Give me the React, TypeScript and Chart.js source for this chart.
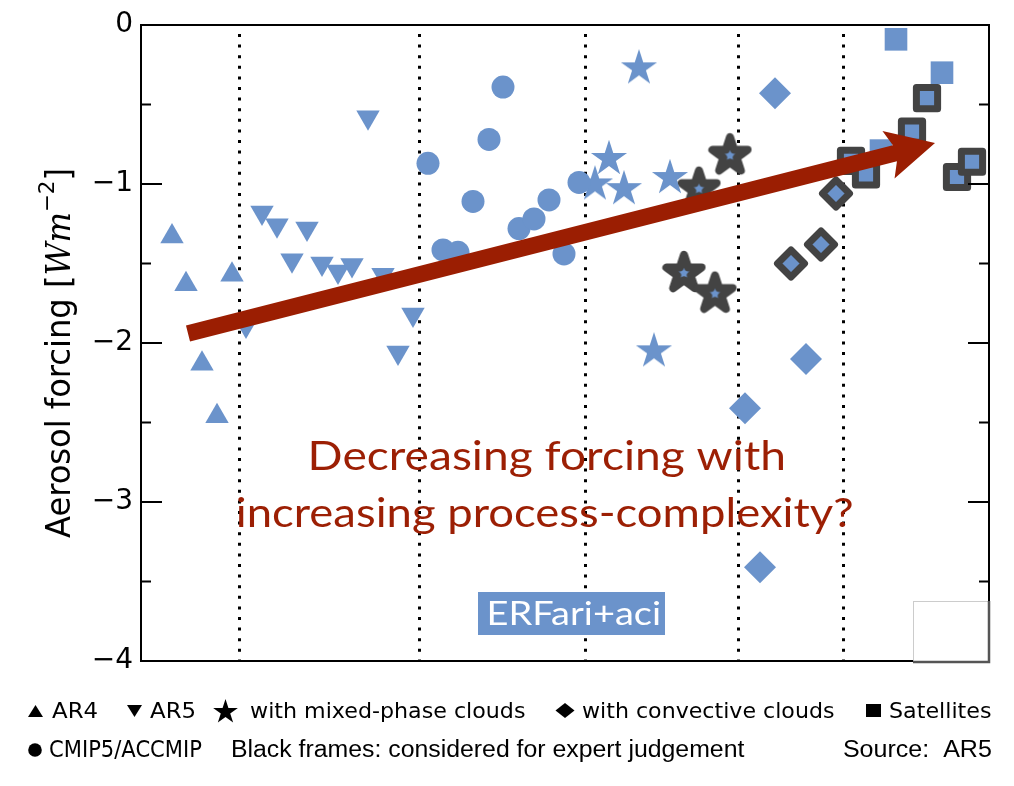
import React, { useEffect, useRef } from "react";
import { Chart, registerables } from "chart.js";
Chart.register(...registerables);

const BLUE = "#6b93cb";
const FRAME = "#434343";
const RED = "#9b1e02";

// x: position along the process-complexity axis (arbitrary units), y: aerosol forcing (W m-2)
const ar4X = [31, 45, 91, 61, 76];
const ar4Y = [-1.33, -1.63, -1.57, -2.13, -2.46];
const ar5X = [121, 136, 166, 151, 181, 197, 211, 242, 227, 272, 257, 105];
const ar5Y = [-1.18, -1.26, -1.28, -1.48, -1.5, -1.55, -1.51, -1.57, -0.58, -1.82, -2.06, -1.89];
const cmipX = [287, 362, 348, 332, 302, 317, 378, 393, 408, 423, 438];
const cmipY = [-0.87, -0.39, -0.72, -1.11, -1.415, -1.43, -1.28, -1.22, -1.1, -1.44, -0.99];
const mixedX = [498, 468, 454, 483, 529, 513];
const mixedY = [-0.26, -0.83, -0.99, -1.02, -0.95, -2.04];
const mixedFramedX = [589, 558, 543, 574];
const mixedFramedY = [-0.81, -1.02, -1.55, -1.68];
const convX = [634, 665, 604, 619];
const convY = [-0.43, -2.1, -2.41, -3.41];
const convFramedX = [695, 680, 650];
const convFramedY = [-1.06, -1.38, -1.5];
const satX = [755, 801, 740];
const satY = [-0.09, -0.3, -0.79];
const satFramedX = [786, 771, 710, 725, 816, 831];
const satFramedY = [-0.46, -0.67, -0.855, -0.94, -0.956, -0.86];

const separatorX = [98, 278, 444, 597, 702];
const trendStart = [47, -1.94];
const trendEnd = [794, -0.742];
const yMin = -4;
const yMax = 0;
const xMin = 0;
const xMax = 848;

const annotationLines = ["Decreasing forcing with", "increasing process-complexity?"];
const boxLabel = "ERFari+aci";

const zip = (xs: number[], ys: number[]) => xs.map((x, i) => ({ x, y: ys[i] }));

function starCanvas(R: number, fill: string, stroke: string, lw: number) {
  const pad = Math.ceil(lw / 2 + 2);
  const size = Math.ceil(2 * R + 2 * pad);
  const c = document.createElement("canvas");
  c.width = size;
  c.height = size;
  const g = c.getContext("2d")!;
  const cx = size / 2;
  const cy = size / 2 + 0.095 * R;
  g.beginPath();
  for (let i = 0; i < 10; i++) {
    const r = i % 2 === 0 ? R : R * 0.382;
    const a = -Math.PI / 2 + (i * Math.PI) / 5;
    g.lineTo(cx + r * Math.cos(a), cy + r * Math.sin(a));
  }
  g.closePath();
  g.fillStyle = fill;
  g.fill();
  if (lw > 0) {
    g.lineJoin = "round";
    g.lineWidth = lw;
    g.strokeStyle = stroke;
    g.stroke();
  }
  return c;
}

function fitText(ctx: CanvasRenderingContext2D, text: string, x0: number, x1: number, baseline: number, font: string, color: string) {
  ctx.save();
  ctx.font = font;
  ctx.textAlign = "left";
  ctx.textBaseline = "alphabetic";
  const m = ctx.measureText(text);
  const w = m.actualBoundingBoxLeft + m.actualBoundingBoxRight;
  const s = (x1 - x0) / w;
  ctx.translate(x0 + m.actualBoundingBoxLeft * s, baseline);
  ctx.scale(s, 1);
  ctx.fillStyle = color;
  ctx.fillText(text, 0, 0);
  ctx.restore();
}

function drawStarShape(ctx: CanvasRenderingContext2D, cx: number, cy: number, R: number) {
  ctx.beginPath();
  for (let i = 0; i < 10; i++) {
    const r = i % 2 === 0 ? R : R * 0.382;
    const a = -Math.PI / 2 + (i * Math.PI) / 5;
    ctx.lineTo(cx + r * Math.cos(a), cy + r * Math.sin(a));
  }
  ctx.closePath();
  ctx.fill();
}

const decorPlugin = {
  id: "decor",
  beforeDatasetsDraw(chart: any) {
    const ctx: CanvasRenderingContext2D = chart.ctx;
    const { top, bottom } = chart.chartArea;
    const xs = chart.scales.x;
    ctx.save();
    ctx.strokeStyle = "#000";
    ctx.lineWidth = 3;
    ctx.setLineDash([3, 7.6]);
    separatorX.forEach((v) => {
      const px = Math.round(xs.getPixelForValue(v)) + 0.5;
      ctx.beginPath();
      ctx.moveTo(px, top + 9);
      ctx.lineTo(px, bottom);
      ctx.stroke();
    });
    ctx.restore();
    ctx.lineJoin = "round";
  },
  afterDatasetsDraw(chart: any) {
    const ctx: CanvasRenderingContext2D = chart.ctx;
    const { left, right, top, bottom } = chart.chartArea;
    const xs = chart.scales.x;
    const ys = chart.scales.y;
    ctx.save();
    ctx.lineJoin = "miter";

    // frame
    ctx.strokeStyle = "#000";
    ctx.lineWidth = 2;
    ctx.strokeRect(left, top, right - left, bottom - top);
    // inward ticks, both sides
    ys.ticks.forEach((t: any) => {
      const py = ys.getPixelForValue(t.value);
      const len = Number.isInteger(t.value) ? 21 : 10;
      ctx.beginPath();
      ctx.moveTo(left, py);
      ctx.lineTo(left + len, py);
      ctx.moveTo(right, py);
      ctx.lineTo(right - len, py);
      ctx.stroke();
    });

    // trend arrow
    const x0 = xs.getPixelForValue(trendStart[0]);
    const y0 = ys.getPixelForValue(trendStart[1]);
    const x1 = xs.getPixelForValue(trendEnd[0]);
    const y1 = ys.getPixelForValue(trendEnd[1]);
    const L = Math.hypot(x1 - x0, y1 - y0);
    const ux = (x1 - x0) / L;
    const uy = (y1 - y0) / L;
    const nx = -uy;
    const ny = ux;
    const sw = 8.2;
    const headLen = 48;
    const hw = 24.5;
    const notch = 38;
    const join = headLen - (headLen - notch) * (1 - sw / hw);
    const P = (a: number, b: number) => [x1 - ux * a + nx * b, y1 - uy * a + ny * b];
    const pts = [
      [x0 + nx * sw, y0 + ny * sw],
      P(join, sw),
      P(headLen, hw),
      [x1, y1],
      P(headLen, -hw),
      P(join, -sw),
      [x0 - nx * sw, y0 - ny * sw],
    ];
    ctx.beginPath();
    pts.forEach((p, i) => (i ? ctx.lineTo(p[0], p[1]) : ctx.moveTo(p[0], p[1])));
    ctx.closePath();
    ctx.fillStyle = RED;
    ctx.fill();

    // annotation text
    fitText(ctx, annotationLines[0], 311, 784, 470, "41px Lato", "#9c1f04");
    fitText(ctx, annotationLines[1], 238, 852, 527, "41px Lato", "#9c1f04");

    // ERFari+aci box
    ctx.fillStyle = BLUE;
    ctx.fillRect(478, 592, 187, 43);
    fitText(ctx, boxLabel, 490, 660, 625, "33px Lato", "#ffffff");

    // white box bottom-right
    ctx.fillStyle = "#ffffff";
    ctx.fillRect(913, 601, 76, 61);
    ctx.strokeStyle = "#cccccc";
    ctx.lineWidth = 1;
    ctx.strokeRect(913.5, 601.5, 75, 60);
    ctx.strokeStyle = "#555555";
    ctx.lineWidth = 2.5;
    ctx.beginPath();
    ctx.moveTo(989, 601);
    ctx.lineTo(989, 662);
    ctx.lineTo(913, 662);
    ctx.stroke();

    // y-axis title (rotated, with superscript)
    ctx.save();
    ctx.translate(70, 538);
    ctx.rotate(-Math.PI / 2);
    const segs = [
      { t: "Aerosol forcing ", f: "33px DejaVu Sans", dy: 0 },
      { t: "[", f: "33px DejaVu Sans", dy: 0 },
      { t: "Wm", f: "italic 33px DejaVu Serif", dy: 0 },
      { t: "\u22122", f: "22px DejaVu Sans", dy: -16 },
      { t: "]", f: "33px DejaVu Sans", dy: 0 },
    ];
    let total = 0;
    const widths = segs.map((s) => {
      ctx.font = s.f;
      const w = ctx.measureText(s.t).width;
      total += w;
      return w;
    });
    const sc = 370 / total;
    ctx.scale(sc, 1);
    ctx.fillStyle = "#000";
    ctx.textBaseline = "alphabetic";
    let cx = 0;
    segs.forEach((s, i) => {
      ctx.font = s.f;
      ctx.fillText(s.t, cx, s.dy);
      cx += widths[i];
    });
    ctx.restore();

    // legend text
    ctx.fillStyle = "#000";
    ctx.beginPath();
    ctx.moveTo(28, 717);
    ctx.lineTo(43, 717);
    ctx.lineTo(35.5, 705);
    ctx.closePath();
    ctx.fill();
    ctx.beginPath();
    ctx.moveTo(127, 705);
    ctx.lineTo(142, 705);
    ctx.lineTo(134.5, 717);
    ctx.closePath();
    ctx.fill();
    drawStarShape(ctx, 225.5, 712, 13);
    ctx.beginPath();
    ctx.moveTo(565, 703);
    ctx.lineTo(574.5, 710.5);
    ctx.lineTo(565, 718);
    ctx.lineTo(555.5, 710.5);
    ctx.closePath();
    ctx.fill();
    ctx.fillRect(866, 704, 15, 13);
    ctx.beginPath();
    ctx.arc(35, 750, 6.8, 0, Math.PI * 2);
    ctx.fill();

    const dv = "22px DejaVu Sans";
    fitText(ctx, "AR4", 52, 97, 718, dv, "#000");
    fitText(ctx, "AR5", 150, 195, 718, dv, "#000");
    fitText(ctx, "with mixed-phase clouds", 250, 525, 718, dv, "#000");
    fitText(ctx, "with convective clouds", 582, 834, 718, dv, "#000");
    fitText(ctx, "Satellites", 890, 991, 718, dv, "#000");
    fitText(ctx, "CMIP5/ACCMIP", 50, 202, 757, "23px DejaVu Sans", "#000");
    fitText(ctx, "Black frames: considered for expert judgement", 232, 745, 757, "23px Liberation Sans", "#000");
    fitText(ctx, "Source:  AR5", 844, 991, 757, "23px Liberation Sans", "#000");

    ctx.restore();
  },
};

export default function App() {
  const ref = useRef<HTMLCanvasElement>(null);
  useEffect(() => {
    document.body.style.margin = "0";
    const canvas = ref.current!;
    const starPlain = starCanvas(19, BLUE, FRAME, 0);
    const starFramed = starCanvas(18.5, BLUE, FRAME, 8);
    const base = { showLine: false, clip: false as any };
    const chart = new Chart(canvas, {
      type: "scatter",
      data: {
        datasets: [
          { ...base, label: "AR4", data: zip(ar4X, ar4Y), pointStyle: "triangle", pointRadius: 13.5, backgroundColor: BLUE, borderWidth: 0 },
          { ...base, label: "AR5", data: zip(ar5X, ar5Y), pointStyle: "triangle", rotation: 180, pointRadius: 13.5, backgroundColor: BLUE, borderWidth: 0 } as any,
          { ...base, label: "CMIP5/ACCMIP", data: zip(cmipX, cmipY), pointStyle: "circle", pointRadius: 11.5, backgroundColor: BLUE, borderWidth: 0 },
          { ...base, label: "with mixed-phase clouds", data: zip(mixedX, mixedY), pointStyle: starPlain as any, pointRadius: 18, backgroundColor: BLUE, borderWidth: 0 },
          { ...base, label: "with mixed-phase clouds (expert)", data: zip(mixedFramedX, mixedFramedY), pointStyle: starFramed as any, pointRadius: 18, backgroundColor: BLUE, borderWidth: 0 },
          { ...base, label: "with convective clouds", data: zip(convX, convY), pointStyle: "rectRot", pointRadius: 16, backgroundColor: BLUE, borderWidth: 0 },
          { ...base, label: "with convective clouds (expert)", data: zip(convFramedX, convFramedY), pointStyle: "rectRot", pointRadius: 13.5, backgroundColor: BLUE, borderColor: FRAME, borderWidth: 7 },
          { ...base, label: "Satellites", data: zip(satX, satY), pointStyle: "rect", pointRadius: 16, backgroundColor: BLUE, borderWidth: 0 },
          { ...base, label: "Satellites (expert)", data: zip(satFramedX, satFramedY), pointStyle: "rect", pointRadius: 15, backgroundColor: BLUE, borderColor: FRAME, borderWidth: 7 },
        ],
      },
      options: {
        responsive: false,
        animation: false,
        events: [],
        layout: { padding: { left: 0, top: 25, right: 25, bottom: 125 } },
        plugins: { legend: { display: false }, tooltip: { enabled: false } },
        scales: {
          x: { type: "linear", min: xMin, max: xMax, display: false },
          y: {
            type: "linear",
            min: yMin,
            max: yMax,
            position: "left",
            afterFit: (s: any) => {
              s.width = 141;
            },
            grid: { display: false, drawTicks: false },
            border: { display: false },
            ticks: {
              stepSize: 0.5,
              padding: 8,
              autoSkip: false,
              color: "#000",
              font: { family: "DejaVu Sans", size: 28 },
              callback: (v: any) => {
                const n = Number(v);
                if (!Number.isInteger(n)) return "";
                return n < 0 ? "\u2212" + Math.abs(n) : "0";
              },
            },
          },
        },
      },
      plugins: [decorPlugin],
    } as any);
    return () => chart.destroy();
  }, []);
  return (
    <div style={{ position: "relative", width: 1014, height: 786 }}>
      <canvas ref={ref} width={1014} height={786} style={{ display: "block", width: 1014, height: 786 }} />
    </div>
  );
}
